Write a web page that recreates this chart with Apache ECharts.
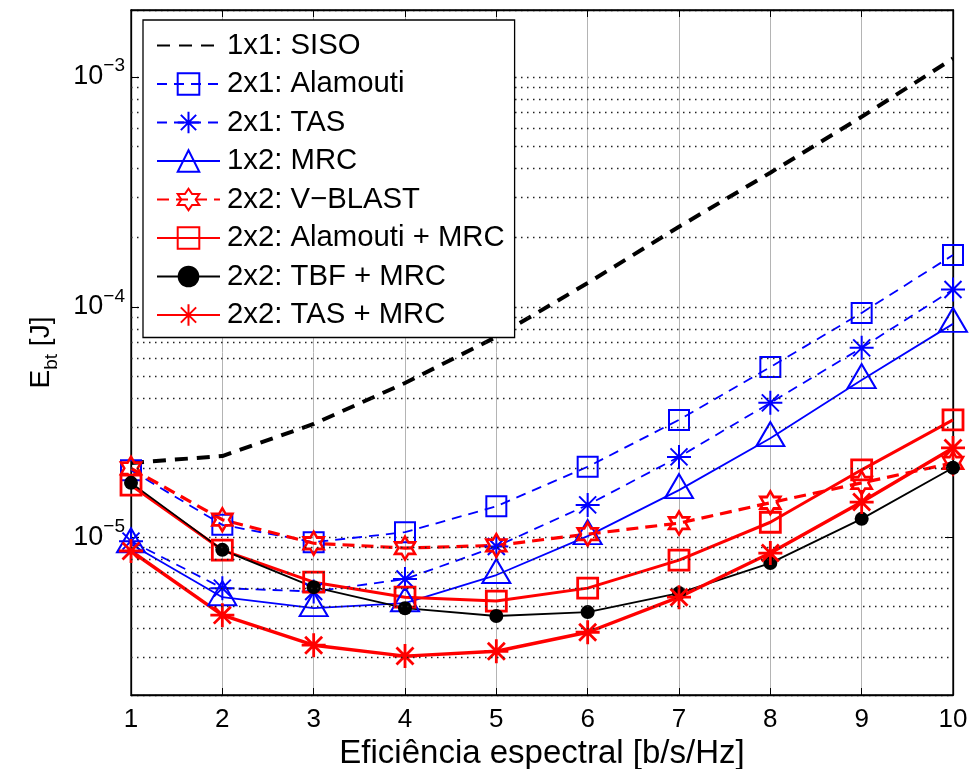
<!DOCTYPE html>
<html>
<head>
<meta charset="utf-8">
<script src="https://cdn.jsdelivr.net/npm/echarts@6/dist/echarts.min.js"></script>
<style>
html,body{margin:0;padding:0;background:#fff;}
#chart{width:970px;height:769px;}
</style>
</head>
<body>
<div id="chart"></div>
<script>
// ---- data ----
var xValues = [1, 2, 3, 4, 5, 6, 7, 8, 9, 10];
var seriesNames = ['1x1: SISO', '2x1: Alamouti', '2x1: TAS', '1x2: MRC', '2x2: V\u2212BLAST', '2x2: Alamouti + MRC', '2x2: TBF + MRC', '2x2: TAS + MRC'];
var siso   = [2.10e-5, 2.25e-5, 3.10e-5, 4.67e-5, 7.41e-5, 1.27e-4, 2.23e-4, 3.83e-4, 6.70e-4, 1.20e-3];
var ala21  = [1.95e-5, 1.13e-5, 9.5e-6, 1.05e-5, 1.36e-5, 2.02e-5, 3.23e-5, 5.48e-5, 9.42e-5, 1.68e-4];
var tas21  = [9.6e-6, 6.0e-6, 5.8e-6, 6.57e-6, 9.1e-6, 1.38e-5, 2.23e-5, 3.83e-5, 6.64e-5, 1.19e-4];
var mrc12  = [9.3e-6, 5.48e-6, 4.91e-6, 5.16e-6, 6.84e-6, 1.01e-5, 1.60e-5, 2.69e-5, 4.81e-5, 8.44e-5];
var vblast = [1.99e-5, 1.19e-5, 9.4e-6, 8.96e-6, 9.2e-6, 1.03e-5, 1.15e-5, 1.41e-5, 1.72e-5, 2.10e-5];
var alaMrc = [1.68e-5, 8.78e-6, 6.37e-6, 5.48e-6, 5.27e-6, 6.0e-6, 7.94e-6, 1.16e-5, 1.96e-5, 3.23e-5];
var tbfMrc = [1.72e-5, 8.8e-6, 6.06e-6, 4.91e-6, 4.54e-6, 4.72e-6, 5.71e-6, 7.71e-6, 1.20e-5, 2.00e-5];
var tasMrc = [8.7e-6, 4.58e-6, 3.39e-6, 3.04e-6, 3.19e-6, 3.86e-6, 5.48e-6, 8.52e-6, 1.42e-5, 2.44e-5];
// axis extents and tick values
var yMin = 2.06e-6, yMax = 1.95e-3;
var majorTickExps = [-5, -4, -3];
var minorTicks = [3e-6, 4e-6, 5e-6, 6e-6, 7e-6, 8e-6, 9e-6,
                  2e-5, 3e-5, 4e-5, 5e-5, 6e-5, 7e-5, 8e-5, 9e-5,
                  2e-4, 3e-4, 4e-4, 5e-4, 6e-4, 7e-4, 8e-4, 9e-4];

var FONT = '"Liberation Sans", Arial, Helvetica, sans-serif';
var BLUE = '#0000ff', RED = '#ff0000', BLACK = '#000000';
var DOT = { color: '#222', width: 1.3, type: [1.5, 4.5] };
var VGRID = { color: '#b4b4b4', width: 1, type: 'solid' };

var SQUARE = 'path://M0 0 L100 0 L100 100 L0 100 Z';
var TRI = 'path://M50 0 L100 86.6 L0 86.6 Z';
var AST = 'path://M50 0 L50 100 M0 50 L100 50 M14.6 14.6 L85.4 85.4 M85.4 14.6 L14.6 85.4';
var HEX = 'path://M50 0 L64.43 25 L93.3 25 L78.87 50 L93.3 75 L64.43 75 L50 100 L35.57 75 L6.7 75 L21.13 50 L6.7 25 L35.57 25 Z';

function pairs(arr) { return xValues.map(function (x, i) { return [x, arr[i]]; }); }

function mk(name, data, color, width, dash, symbol, size, bw, fill, extra) {
  var s = {
    name: name, type: 'line', data: pairs(data), clip: false,
    symbol: symbol, symbolSize: size, showSymbol: true,
    lineStyle: { color: color, width: width, type: dash },
    itemStyle: { color: fill, borderColor: color, borderWidth: bw },
    emphasis: { disabled: true }, animation: false, z: 3
  };
  if (extra) for (var k in extra) s[k] = extra[k];
  return s;
}

var series = [
  mk(seriesNames[0], siso, BLACK, 4, [13, 9], 'circle', 1, 0, 'none', { showSymbol: false }),
  mk(seriesNames[1], ala21, BLUE, 1.8, [10, 7], SQUARE, 20, 2, 'none'),
  mk(seriesNames[2], tas21, BLUE, 1.8, [10, 7], AST, 24, 2, 'none'),
  mk(seriesNames[3], mrc12, BLUE, 1.8, 'solid', TRI, [28, 24], 2, 'none', { symbolOffset: [0, -4] }),
  mk(seriesNames[4], vblast, RED, 3.2, [12, 7], HEX, [20, 23], 2.6, 'none'),
  mk(seriesNames[5], alaMrc, RED, 3, 'solid', SQUARE, 20, 2.8, 'none'),
  mk(seriesNames[6], tbfMrc, BLACK, 1.8, 'solid', 'circle', 14, 0, BLACK),
  mk(seriesNames[7], tasMrc, RED, 3.4, 'solid', AST, 24, 2.8, 'none')
];
// helper series carrying the minor dotted grid lines via markLine on the log scale
series.push({
  name: 'grid-lines', type: 'line', data: [], silent: true, z: 1, animation: false,
  markLine: {
    silent: true, symbol: ['none', 'none'], animation: false, precision: 10,
    label: { show: false },
    lineStyle: DOT,
    emphasis: { disabled: true },
    data: minorTicks.map(function (v) { return { yAxis: v }; })
  }
});

var chart = echarts.init(document.getElementById('chart'), null, { renderer: 'canvas' });

function yLabel(v) {
  var e = Math.log(v) / Math.LN10;
  var r = Math.round(e);
  if (Math.abs(e - r) < 1e-6 && majorTickExps.indexOf(r) >= 0) return '{b|10}{s|\u2212' + Math.abs(r) + '}';
  return '';
}

chart.setOption({
  backgroundColor: '#fff',
  animation: false,
  textStyle: { fontFamily: FONT },
  grid: { left: 131, right: 17, top: 10, bottom: 74, outerBoundsMode: 'none', containLabel: false,
          show: true, borderColor: BLACK, borderWidth: 1.3, backgroundColor: 'transparent' },
  legend: {
    data: seriesNames, orient: 'vertical', left: 143, top: 20,
    backgroundColor: '#fff', borderColor: BLACK, borderWidth: 1.3,
    padding: [11, 10, 8, 13], itemWidth: 63, itemHeight: 27, itemGap: 9.5,
    textStyle: { fontFamily: FONT, fontSize: 29.3, color: BLACK, padding: [0, 0, 0, 2] },
    selectedMode: false, z: 10
  },
  xAxis: [{
    type: 'value', min: 1, max: 10, interval: 1,
    name: 'Efici\u00eancia espectral [b/s/Hz]', nameLocation: 'middle', nameGap: 34,
    nameTextStyle: { fontFamily: FONT, fontSize: 33, color: BLACK },
    axisLine: { show: true, lineStyle: { color: BLACK, width: 1.3 } },
    axisTick: { show: true, inside: true, length: 7, lineStyle: { color: BLACK } },
    axisLabel: { fontFamily: FONT, fontSize: 26, color: BLACK, margin: 12 },
    splitLine: { show: true, lineStyle: VGRID }
  }, {
    type: 'value', min: 1, max: 10, interval: 1, position: 'top',
    axisLine: { show: true, lineStyle: { color: BLACK, width: 1.3 } },
    axisTick: { show: true, inside: true, length: 7, lineStyle: { color: BLACK } },
    axisLabel: { show: false }, splitLine: { show: false }
  }],
  yAxis: [{
    type: 'log', logBase: 10, min: yMin, max: yMax,
    name: '{e|E}{sub|bt}{e| [J]}', nameLocation: 'middle', nameGap: 70, nameRotate: 90,
    nameTextStyle: {
      rich: {
        e: { fontFamily: FONT, fontSize: 28, color: BLACK, lineHeight: 40, verticalAlign: 'middle' },
        sub: { fontFamily: FONT, fontSize: 19, color: BLACK, lineHeight: 19, verticalAlign: 'bottom' }
      }
    },
    axisLine: { show: true, lineStyle: { color: BLACK, width: 1.3 } },
    axisTick: { show: true, inside: true, length: 8, lineStyle: { color: BLACK } },
    axisLabel: {
      margin: 6, formatter: yLabel, showMinLabel: false, showMaxLabel: false,
      rich: {
        b: { fontFamily: FONT, fontSize: 27, color: BLACK, lineHeight: 40, verticalAlign: 'middle' },
        s: { fontFamily: FONT, fontSize: 19, color: BLACK, lineHeight: 19, verticalAlign: 'top' }
      }
    },
    splitLine: { show: true, lineStyle: DOT }
  }, {
    type: 'log', logBase: 10, min: yMin, max: yMax, position: 'right',
    axisLine: { show: true, lineStyle: { color: BLACK, width: 1.3 } },
    axisTick: { show: true, inside: true, length: 8, lineStyle: { color: BLACK } },
    axisLabel: { show: false }, splitLine: { show: false }
  }],
  series: series
});
</script>
</body>
</html>
